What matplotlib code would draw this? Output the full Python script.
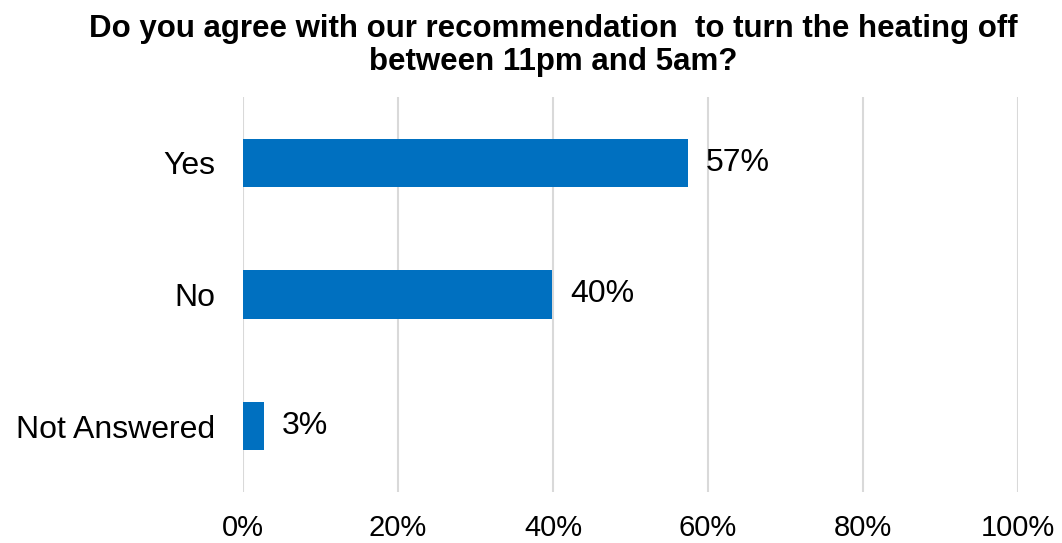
import matplotlib.pyplot as plt

# Survey responses (share of respondents, %)
categories = ['Yes', 'No', 'Not Answered']
shares = [57.4, 39.9, 2.7]
tick_values = [0, 20, 40, 60, 80, 100]

fig = plt.figure(figsize=(10.62, 5.43), dpi=100)
ax = fig.add_axes([243 / 1062, 51 / 543, 775 / 1062, 395 / 543])

ypos = list(range(len(categories)))
ax.barh(ypos, shares, height=0.365, color='#0070C0', zorder=3)
ax.set_ylim(len(categories) - 0.5, -0.5)
ax.set_xlim(0, 100)

for y, v in zip(ypos, shares):
    ax.annotate(f'{v:.0f}%', (v, y), xytext=(13, 0), textcoords='offset points',
                va='center', ha='left', fontsize=23, family='Liberation Sans')

ax.set_yticks(ypos)
ax.set_yticklabels(categories, fontsize=23, family='Liberation Sans')
ax.set_xticks(tick_values)
ax.set_xticklabels([f'{t}%' for t in tick_values], fontsize=21,
                   family='Liberation Sans')
ax.tick_params(length=0)
ax.tick_params(axis='y', pad=20)
ax.tick_params(axis='x', pad=16)

ax.grid(axis='x', color='#d9d9d9', linewidth=1.5, zorder=0)
for s in ax.spines.values():
    s.set_visible(False)

fig.text(553 / 1062, 0.975,
         'Do you agree with our recommendation  to turn the heating off\nbetween 11pm and 5am?',
         ha='center', va='top', fontsize=22.5, fontweight='bold', linespacing=1.15,
         family='Liberation Sans')

fig.savefig('out.png', dpi=100)
